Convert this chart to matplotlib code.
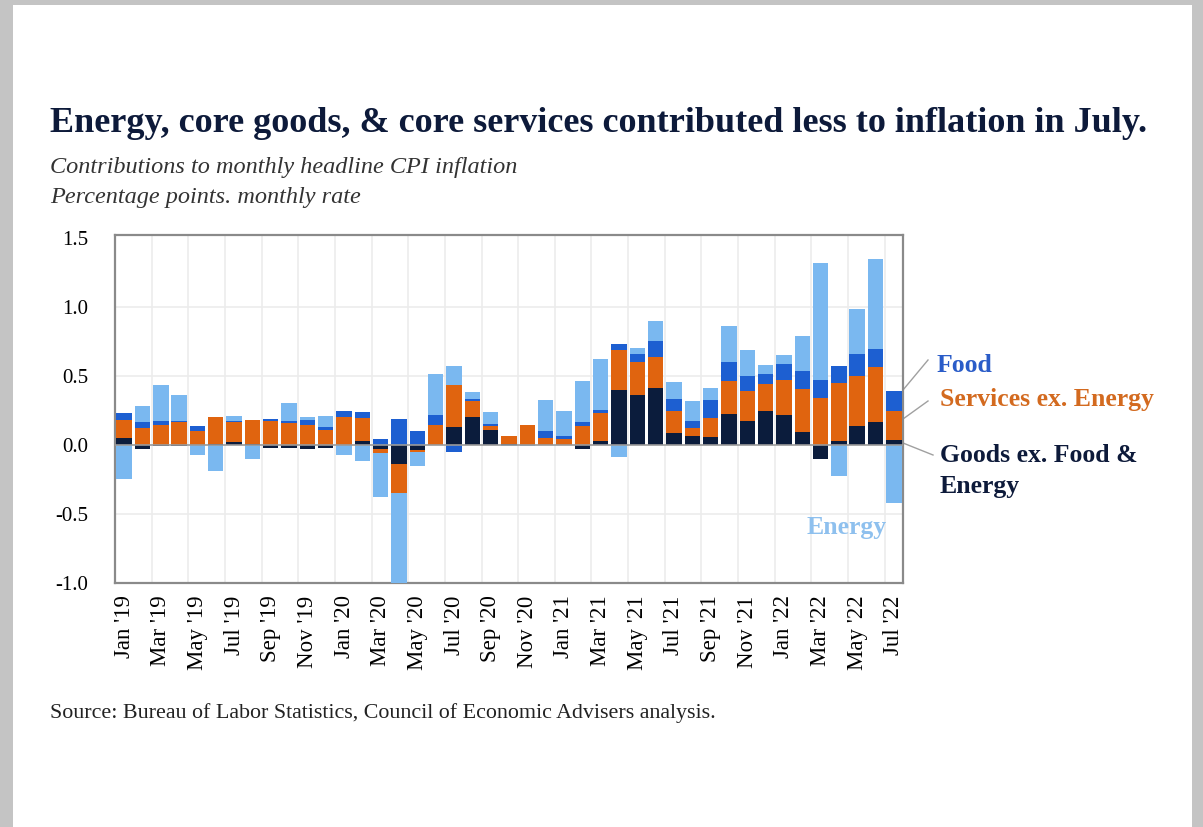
import numpy as np
import matplotlib
matplotlib.use('Agg')
import matplotlib.pyplot as plt
from matplotlib.patches import Rectangle

# contributions to monthly headline CPI, percentage points
months = ["Jan '19", "Feb '19", "Mar '19", "Apr '19", "May '19", "Jun '19", "Jul '19", "Aug '19",
          "Sep '19", "Oct '19", "Nov '19", "Dec '19", "Jan '20", "Feb '20", "Mar '20", "Apr '20",
          "May '20", "Jun '20", "Jul '20", "Aug '20", "Sep '20", "Oct '20", "Nov '20", "Dec '20",
          "Jan '21", "Feb '21", "Mar '21", "Apr '21", "May '21", "Jun '21", "Jul '21", "Aug '21",
          "Sep '21", "Oct '21", "Nov '21", "Dec '21", "Jan '22", "Feb '22", "Mar '22", "Apr '22",
          "May '22", "Jun '22", "Jul '22"]
goods = [0.05, -0.03, -0.005, -0.01, 0.0, 0.01, 0.02, 0.01, -0.02, -0.02, -0.03, -0.02, 0.0, 0.025,
         -0.03, -0.14, -0.04, 0.0, 0.13, 0.2, 0.11, 0.005, 0.0, 0.0, 0.0, -0.03, 0.03, 0.40, 0.36,
         0.415, 0.087, 0.063, 0.055, 0.222, 0.176, 0.246, 0.213, 0.097, -0.10, 0.029, 0.14, 0.164, 0.039]
services = [0.13, 0.12, 0.145, 0.165, 0.10, 0.19, 0.145, 0.17, 0.17, 0.16, 0.145, 0.105, 0.2, 0.17,
            -0.03, -0.21, -0.01, 0.145, 0.305, 0.115, 0.03, 0.058, 0.142, 0.053, 0.04, 0.14, 0.2,
            0.285, 0.24, 0.225, 0.16, 0.057, 0.138, 0.244, 0.214, 0.198, 0.258, 0.306, 0.338, 0.418,
            0.362, 0.399, 0.203]
food = [0.05, 0.045, 0.03, 0.005, 0.04, 0.005, 0.01, 0.0, 0.015, 0.015, 0.035, 0.025, 0.045, 0.04,
        0.04, 0.19, 0.10, 0.075, -0.05, 0.015, 0.01, 0.005, 0.005, 0.047, 0.025, 0.025, 0.025, 0.045,
        0.06, 0.11, 0.087, 0.056, 0.133, 0.131, 0.107, 0.07, 0.118, 0.133, 0.133, 0.121, 0.157,
        0.133, 0.149]
energy = [-0.25, 0.115, 0.26, 0.19, -0.07, -0.19, 0.035, -0.10, 0.0, 0.125, 0.02, 0.08, -0.07, -0.115,
          -0.32, -0.65, -0.105, 0.29, 0.135, 0.05, 0.085, -0.01, -0.01, 0.225, 0.18, 0.295, 0.365,
          -0.085, 0.04, 0.145, 0.12, 0.144, 0.084, 0.265, 0.189, 0.066, 0.063, 0.256, 0.845, -0.222,
          0.324, 0.652, -0.423]

C_GOODS = '#0b1c3c'; C_SERV = '#e0640f'; C_FOOD = '#1d5fd1'; C_ENERGY = '#7ab8f0'

fig = plt.figure(figsize=(12.03, 8.27), dpi=100)
fig.patch.set_facecolor('#c4c4c4')
fig.patches.append(Rectangle((13/1203, 0), 1179/1203, 822/827, transform=fig.transFigure,
                             facecolor='white', edgecolor='none', zorder=-5))

ax = fig.add_axes([115/1203, 244/827, 788/1203, 348/827])
ax.set_zorder(2)
x = np.arange(len(months))
pos_base = np.zeros(len(x)); neg_base = np.zeros(len(x))
for vals, col in [(goods, C_GOODS), (services, C_SERV), (food, C_FOOD), (energy, C_ENERGY)]:
    v = np.array(vals)
    base = np.where(v >= 0, pos_base, neg_base)
    ax.bar(x, v, 0.84, bottom=base, color=col, zorder=3)
    pos_base += np.clip(v, 0, None); neg_base += np.clip(v, None, 0)

ax.set_xlim(-0.5, len(x) - 0.5)
ax.set_ylim(-1.0, 1.52)
ax.set_yticks([-1.0, -0.5, 0.0, 0.5, 1.0, 1.5])
ax.set_yticklabels(['-1.0', '-0.5', '0.0', '0.5', '1.0', '1.5'], family='Liberation Serif', fontsize=15)
ax.set_xticks(x[::2])
ax.set_xticklabels(months[::2], rotation=90, family='Liberation Serif', fontsize=16.5)
ax.tick_params(length=0)
ax.tick_params(axis='y', pad=19)
ax.tick_params(axis='x', pad=9)
for g in np.arange(1.5, len(x) - 1, 2):
    ax.axvline(g, color='#ececec', lw=1.2, zorder=1)
for g in [-0.5, 0.5, 1.0]:
    ax.axhline(g, color='#ececec', lw=1.2, zorder=1)
ax.axhline(0, color='#9a9a9a', lw=1.2, zorder=4)
for s in ax.spines.values():
    s.set_color('#8a8a8a'); s.set_linewidth(1.6)

# labels with leader lines
serif = 'Liberation Serif'
fig.text(937/1203, 1 - 366/827, 'Food', color='#2a5cc8', fontsize=18.5, fontweight='bold', family=serif, va='center')
fig.text(940/1203, 1 - 399/827, 'Services ex. Energy', color='#d36a1f', fontsize=18.5, fontweight='bold', family=serif, va='center')
fig.text(940/1203, 1 - 471/827, 'Goods ex. Food &\nEnergy', color='#0d1a3a', fontsize=18.5, fontweight='bold', family=serif,
         va='center', linespacing=1.4)
ax.text(39.4, -0.6, 'Energy', color='#8ec0ee', fontsize=18.5, fontweight='bold', family=serif, ha='center', va='center')
for (x0, y0, x1, y1) in [(903, 390, 928, 360), (903, 419, 928, 401), (903, 443, 933, 455)]:
    fig.add_artist(plt.Line2D([x0/1203, x1/1203], [1 - y0/827, 1 - y1/827], color='#a0a0a0', lw=1))

fig.text(50/1203, 1 - 124/827, 'Energy, core goods, & core services contributed less to inflation in July.',
         color='#0d1a3a', fontsize=26, fontweight='bold', family=serif, va='center')
fig.text(50/1203, 1 - 168/827, 'Contributions to monthly headline CPI inflation', color='#333333',
         fontsize=17.5, style='italic', family=serif, va='center')
fig.text(50/1203, 1 - 197/827, 'Percentage points. monthly rate', color='#333333',
         fontsize=17.5, style='italic', family=serif, va='center')
fig.text(50/1203, 1 - 713/827, 'Source: Bureau of Labor Statistics, Council of Economic Advisers analysis.',
         color='#222222', fontsize=15.8, family=serif, va='center')

fig.savefig('out.png', dpi=100, facecolor=fig.get_facecolor())
